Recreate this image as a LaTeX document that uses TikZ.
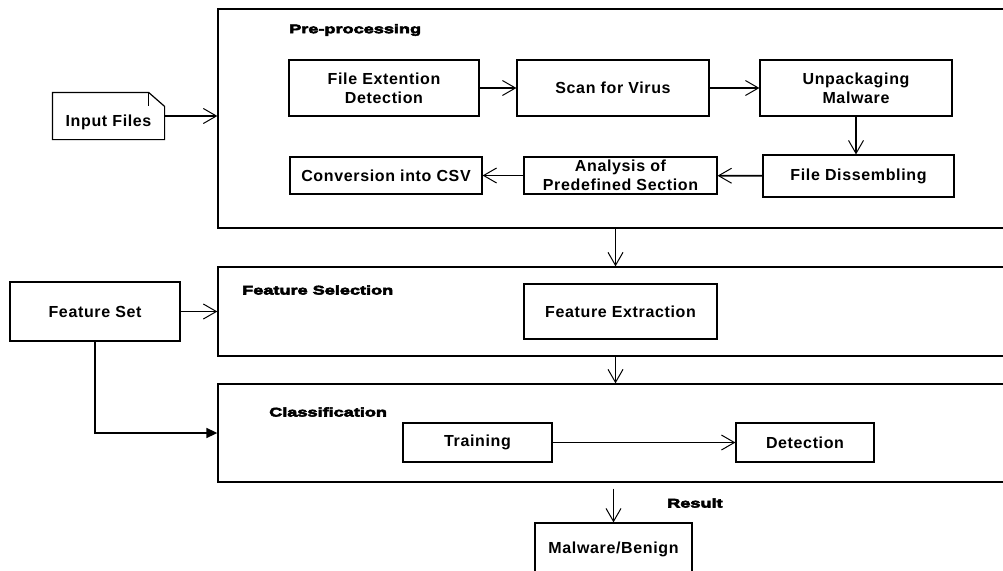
\documentclass[tikz,border=0pt]{standalone}
\usepackage{fontspec}
\setmainfont{Liberation Sans}
\newfontfamily\boxfont[LetterSpace=4]{Liberation Sans Bold}
\newfontfamily\ttlfont[FakeStretch=1.45,FakeBold=4.5]{Liberation Sans Bold}
\usetikzlibrary{arrows.meta}

\tikzset{
  stage/.style={draw, line width=1.3pt, inner sep=0pt, minimum width=795pt},
  proc/.style={draw, line width=1.2pt, inner sep=0pt, align=center,
    font=\boxfont\fontsize{16}{19}\selectfont},
  ttl/.style={anchor=west, inner sep=0pt, font=\ttlfont\fontsize{12.5}{14}\selectfont},
  flow/.style={line width=1.6pt, -{Straight Barb[length=13pt,width=15pt,line width=1pt]}},
}

\begin{document}
\begin{tikzpicture}[x=1pt,y=-1pt]
  \useasboundingbox (0,0) rectangle (1003,570);
  % the three stages, their right edge runs off the page
  \node[stage, minimum height=219pt] (pre)  at (615.5,118.5) {};
  \node[stage, minimum height=89pt]  (fsel) at (615.5,311.5) {};
  \node[stage, minimum height=98pt]  (cls)  at (615.5,433) {};
  \node[ttl] (tpre)  at (289,30)  {Pre-processing};
  \node[ttl] (tfsel) at (242,290) {Feature Selection};
  \node[ttl] (tcls)  at (269,412) {Classification};
  \node[ttl] (tres)  at (667,503) {Result};
  % Pre-processing steps
  \node[proc, minimum width=190pt, minimum height=56pt] (fed)  at (384,88)      {File Extention\\Detection};
  \node[proc, minimum width=192pt, minimum height=56pt] (scan) at (613,88)      {Scan for Virus};
  \node[proc, minimum width=192pt, minimum height=56pt] (unp)  at (856,88)      {Unpackaging\\Malware};
  \node[proc, minimum width=191pt, minimum height=42pt] (dis)  at (858.5,176)   {File Dissembling};
  \node[proc, minimum width=193pt, minimum height=37pt] (ana)  at (620.5,175.5) {Analysis of\\Predefined Section};
  \node[proc, minimum width=192pt, minimum height=37pt] (csv)  at (386,175.5)   {Conversion into CSV};
  % inputs on the left
  \node[proc, draw=none, minimum width=111pt, minimum height=46pt,
    text height=20pt, text depth=0pt] (inp) at (108.5,116) {Input Files};
  \draw[line width=1.2pt] (inp.south west) -- (inp.north west) -- ([xshift=-16pt]inp.north east)
    -- ([yshift=-14pt]inp.north east) -- (inp.south east) -- cycle;
  \draw[line width=.8pt] ([xshift=-16pt]inp.north east) -- ++(0,14);
  \node[proc, minimum width=170pt, minimum height=59pt] (fset) at (95,311.5) {Feature Set};
  % feature selection and classification
  \node[proc, minimum width=193pt, minimum height=55pt] (fext) at (620.5,311.5) {Feature Extraction};
  \node[proc, minimum width=149pt, minimum height=39pt] (trn)  at (477.5,442.5) {Training};
  \node[proc, minimum width=138pt, minimum height=39pt] (det)  at (805,442.5)   {Detection};
  \node[proc, minimum width=157pt, minimum height=52pt] (res)  at (613.5,549)   {Malware/Benign};
  % connectors
  \draw[flow] (inp.east) -- (inp.east -| pre.west);
  \draw[flow] (fed) -- (scan);
  \draw[flow] (scan) -- (unp);
  \draw[flow] (unp.south) -- (unp.south |- dis.north);
  \draw[flow] (dis) -- (ana);
  \draw[flow] (ana) -- (csv);
  \draw[flow] (pre.south) -- (fsel.north);
  \draw[flow] (fsel.south) -- (cls.north);
  \draw[flow] (fset.east) -- (fset.east -| fsel.west);
  \draw[line width=1.6pt, -{Triangle[length=11pt,width=10pt]}] (fset.south) |- (cls.west);
  \draw[flow] (trn) -- (det);
  \draw[flow, shorten <=6pt] (res.north |- cls.south) -- (res.north);
\end{tikzpicture}
\end{document}
